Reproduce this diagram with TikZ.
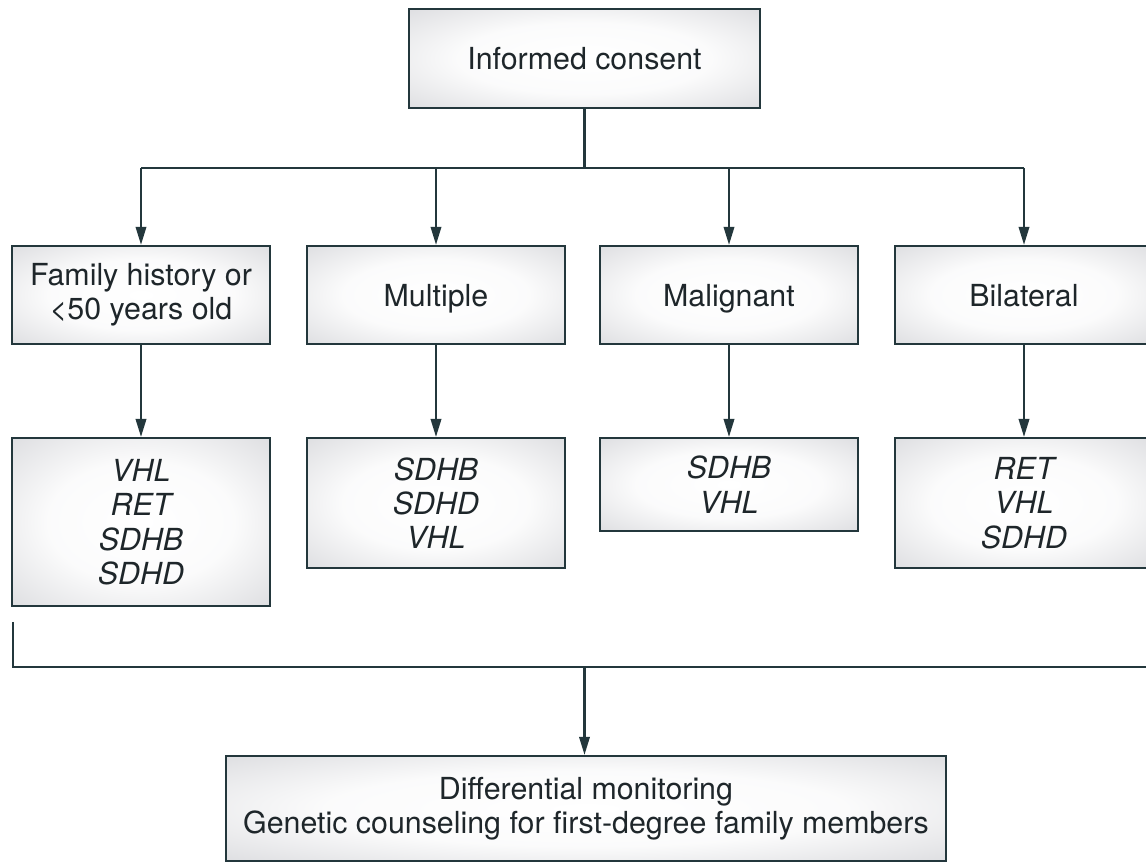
\documentclass[tikz,border=0pt]{standalone}
\usepackage{fontspec}
\setmainfont{TeX Gyre Heros}
\usetikzlibrary{arrows.meta}

\definecolor{boxedge}{RGB}{35,55,60}
\definecolor{boxgray}{RGB}{198,199,204}
\definecolor{inkcol}{RGB}{30,38,42}
\pgfdeclareradialshading{boxglow}{\pgfpointorigin}{color(0bp)=(white); color(18bp)=(white!93!boxgray); color(50bp)=(boxgray)}

\tikzset{
  stagebox/.style={draw=boxedge, line width=1.6pt, shading=boxglow, minimum width=6.45cm,
    minimum height=2.45cm, inner sep=0pt, align=center, text=inkcol,
    font=\fontsize{21.6}{24.5}\selectfont},
  oneline/.style={text depth=0pt},
  genebox/.style={stagebox, anchor=north, font=\fontsize{21.6}{24.5}\selectfont\itshape},
  link/.style={draw=boxedge, line width=1.6pt},
  flow/.style={link, -{Triangle[length=4.5mm,width=2.6mm]}}
}

\begin{document}
\begin{tikzpicture}
  % Frame
  \useasboundingbox (0,0) rectangle (28.65,-21.575);

  % Informed consent
  \node[stagebox, oneline, minimum width=8.775cm, minimum height=2.475cm] (consent) at (14.6125,-1.4625) {Informed consent};

  % Criteria
  \node[stagebox] (family) at (3.525,-7.375) {Family history or\\<50 years old};
  \node[stagebox, oneline] (multiple) at (10.9,-7.375) {Multiple};
  \node[stagebox, oneline] (malignant) at (18.225,-7.375) {Malignant};
  \node[stagebox, oneline] (bilateral) at (25.6,-7.375) {Bilateral};

  % Genes to test
  \node[genebox, minimum height=4.2cm] (familygenes) at (3.525,-10.925) {VHL\\RET\\SDHB\\SDHD};
  \node[genebox, minimum height=3.25cm] (multiplegenes) at (10.9,-10.925) {SDHB\\SDHD\\VHL};
  \node[genebox, minimum height=2.325cm] (malignantgenes) at (18.225,-10.925) {SDHB\\VHL};
  \node[genebox, minimum height=3.25cm] (bilateralgenes) at (25.6,-10.925) {RET\\VHL\\SDHD};

  % Branches
  \coordinate (split) at (14.6125,-4.2);
  \draw[link] (consent.south) -- (split);
  \draw[link] (family.north |- split) -- (bilateral.north |- split);
  \foreach \name in {family, multiple, malignant, bilateral}{
    \draw[flow] (\name.north |- split) -- (\name.north);
    \draw[flow] (\name.south) -- (\name genes.north);
  }

  % Gathering bracket
  \coordinate (gatherL) at (0.325,-16.675);
  \coordinate (gatherR) at (28.9,-16.675);
  \coordinate (gatherM) at (14.6125,-16.675);
  \draw[link] (0.325,-15.55) -- (gatherL) -- (gatherR) -- (28.9,-15.55);

  % Monitoring
  \node[stagebox, minimum width=18cm, minimum height=2.625cm] (monitor) at (14.65,-20.2125)
    {Differential monitoring\\Genetic counseling for first-degree family members};
  \draw[flow] (gatherM) -- (gatherM |- monitor.north);
\end{tikzpicture}
\end{document}
